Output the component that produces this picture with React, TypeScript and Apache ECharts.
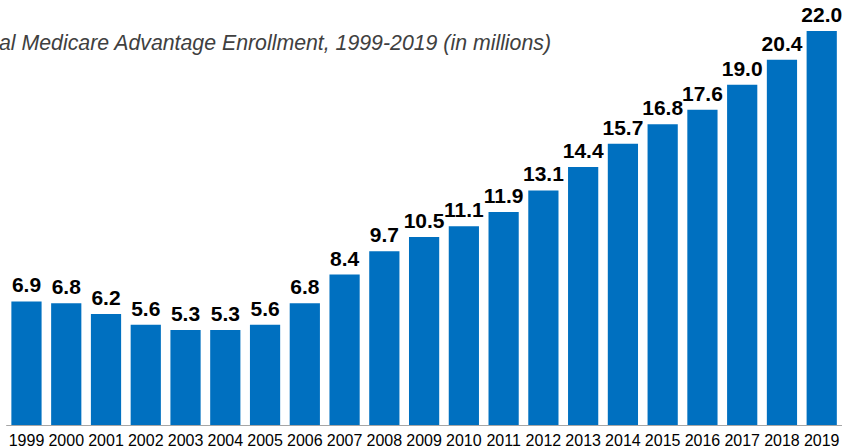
import React, { useEffect, useRef } from "react";
import * as echarts from "echarts";

const years = ["1999","2000","2001","2002","2003","2004","2005","2006","2007","2008","2009","2010","2011","2012","2013","2014","2015","2016","2017","2018","2019"];
const enrollment = [6.9, 6.8, 6.2, 5.6, 5.3, 5.3, 5.6, 6.8, 8.4, 9.7, 10.5, 11.1, 11.9, 13.1, 14.4, 15.7, 16.8, 17.6, 19.0, 20.4, 22.0];
const titleText = "al Medicare Advantage Enrollment, 1999-2019 (in millions)";

export default function App() {
  const ref = useRef<HTMLDivElement>(null);
  useEffect(() => {
    if (!ref.current) return;
    const chart = echarts.init(ref.current, undefined, { renderer: "svg" });
    chart.setOption({
      animation: false,
      backgroundColor: "#ffffff",
      graphic: [
        {
          type: "text",
          left: -1,
          top: 32,
          style: {
            text: titleText,
            fill: "#404040",
            font: "italic 21.3px 'Liberation Sans', Arial, sans-serif",
          },
        },
      ],
      grid: { left: 6.6, right: 2.4, top: 31, bottom: 23, containLabel: false },
      xAxis: {
        type: "category",
        data: years,
        axisLine: { lineStyle: { color: "#a6a6a6", width: 1 } },
        axisTick: { show: false },
        axisLabel: {
          interval: 0,
          color: "#000000",
          fontSize: 16,
          fontFamily: "'Liberation Sans', Arial, sans-serif",
          margin: 7,
        },
      },
      yAxis: {
        type: "value",
        min: 0,
        max: 22,
        show: false,
        splitLine: { show: false },
      },
      series: [
        {
          type: "bar",
          data: enrollment,
          barCategoryGap: "24%",
          itemStyle: { color: "#0070c0" },
          label: {
            show: true,
            position: "top",
            distance: 6,
            formatter: (p: any) => Number(p.value).toFixed(1),
            color: "#000000",
            fontSize: 21,
            fontWeight: "bold",
            fontFamily: "'Liberation Sans', Arial, sans-serif",
          },
        },
      ],
    });
    return () => chart.dispose();
  }, []);
  return (
    <div
      ref={ref}
      style={{ position: "fixed", left: 0, top: 0, width: 844, height: 448 }}
    />
  );
}
